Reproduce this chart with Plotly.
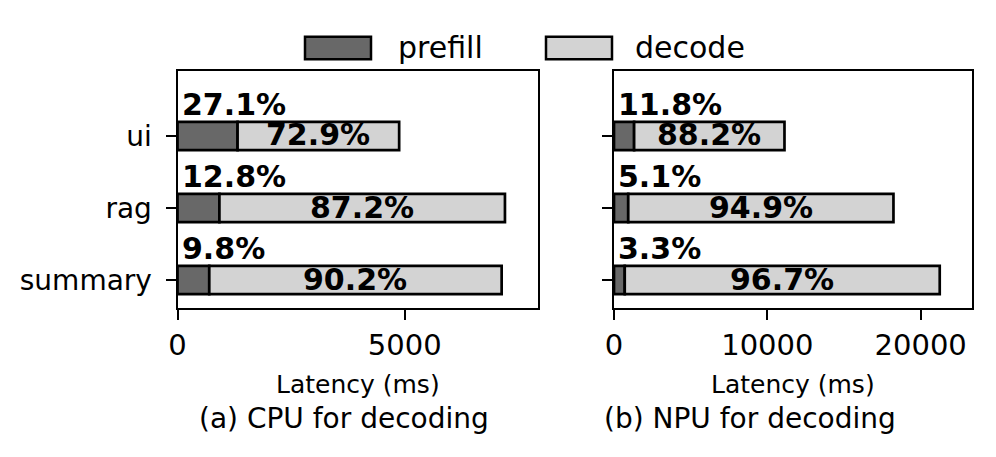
import plotly.graph_objects as go

categories = ["ui", "rag", "summary"]
cpu_prefill = [1322, 922, 699]
cpu_decode = [3555, 6283, 6433]
npu_prefill = [1312, 929, 701]
npu_decode = [9806, 17296, 20541]
cpu_prefill_pct = ["27.1%", "12.8%", "9.8%"]
cpu_decode_pct = ["72.9%", "87.2%", "90.2%"]
npu_prefill_pct = ["11.8%", "5.1%", "3.3%"]
npu_decode_pct = ["88.2%", "94.9%", "96.7%"]
series_names = ["prefill", "decode"]
subtitles = ["(a) CPU for decoding", "(b) NPU for decoding"]
xlabel = "Latency (ms)"

FONT = "DejaVu Sans"
C_PRE = "#686868"
C_DEC = "#d3d3d3"
W, H = 996, 457

n = len(categories)
ypos = [n - 1 - i for i in range(n)]

fig = go.Figure()

panels = [
    ("x", "y", cpu_prefill, cpu_decode, cpu_prefill_pct, cpu_decode_pct),
    ("x2", "y2", npu_prefill, npu_decode, npu_prefill_pct, npu_decode_pct),
]

for k, (xa, ya, pre, dec, ppct, dpct) in enumerate(panels):
    fig.add_trace(go.Bar(
        y=ypos, x=pre, orientation="h", name=series_names[0],
        marker=dict(color=C_PRE, line=dict(color="black", width=2.7)),
        width=0.39, xaxis=xa, yaxis=ya, showlegend=False))
    fig.add_trace(go.Bar(
        y=ypos, x=dec, base=pre, orientation="h", name=series_names[1],
        marker=dict(color=C_DEC, line=dict(color="black", width=2.7)),
        width=0.39, xaxis=xa, yaxis=ya, showlegend=False))
    for i in range(n):
        fig.add_annotation(
            x=0, y=ypos[i] + 0.44, xref=xa, yref=ya, text=ppct[i],
            showarrow=False, xanchor="left", yanchor="middle", xshift=2,
            font=dict(family=FONT, size=30, color="black", weight="bold"))
        fig.add_annotation(
            x=pre[i] + dec[i] / 2, y=ypos[i], xref=xa, yref=ya, text=dpct[i],
            showarrow=False, xanchor="center", yanchor="middle", yshift=1,
            font=dict(family=FONT, size=30, color="black", weight="bold"))

cpu_max = max(p + d for p, d in zip(cpu_prefill, cpu_decode))
npu_max = max(p + d for p, d in zip(npu_prefill, npu_decode))

axis_common = dict(showline=True, linewidth=2, linecolor="black", mirror=True,
                   ticks="outside", ticklen=10, tickwidth=2, tickcolor="black",
                   showgrid=False, zeroline=False, automargin=False,
                   tickfont=dict(family=FONT, size=29, color="black"))

ydom = [(H - 308.3) / H, (H - 70.7) / H]
fig.update_layout(
    width=W, height=H, margin=dict(l=0, r=0, t=0, b=0),
    plot_bgcolor="white", paper_bgcolor="white",
    font=dict(family=FONT, color="black"),
    barmode="overlay",
    xaxis=dict(domain=[177.5 / W, 537.7 / W], range=[0, cpu_max * 1.1],
               tickvals=[0, 5000], tickformat="d", ticklabelstandoff=0, anchor="y",
               **axis_common),
    yaxis=dict(domain=ydom, range=[-0.393, 2.907], tickvals=ypos, ticktext=categories,
               ticklabelstandoff=8, anchor="x", **axis_common),
    xaxis2=dict(domain=[614 / W, 972.3 / W], range=[0, npu_max * 1.1],
                tickvals=[0, 10000, 20000], tickformat="d", ticklabelstandoff=0,
                anchor="y2", **axis_common),
    yaxis2=dict(domain=ydom, range=[-0.393, 2.907], tickvals=ypos, showticklabels=False,
                anchor="x2", **axis_common),
)
fig.update_yaxes(tickfont=dict(family=FONT, size=28, color="black"))

# axis labels and subtitles
for cx in [(177.5 + 537.7) / 2 / W, (614 + 972.3) / 2 / W]:
    fig.add_annotation(x=cx, y=(H - 385) / H, xref="paper", yref="paper", text=xlabel,
                       showarrow=False, xanchor="center", yanchor="middle",
                       font=dict(family=FONT, size=25, color="black"))
for cx, t in zip([344 / W, 750 / W], subtitles):
    fig.add_annotation(x=cx, y=(H - 418) / H, xref="paper", yref="paper", text=t,
                       showarrow=False, xanchor="center", yanchor="middle",
                       font=dict(family=FONT, size=28, color="black"))

# legend
legend_items = [(305, 371, 396, series_names[0], C_PRE), (546, 612, 633, series_names[1], C_DEC)]
for x0, x1, tx, name, col in legend_items:
    fig.add_shape(type="rect", xref="paper", yref="paper",
                  x0=x0 / W, x1=x1 / W, y0=(H - 59.3) / H, y1=(H - 36.7) / H,
                  fillcolor=col, line=dict(color="black", width=2.5))
    fig.add_annotation(x=tx / W, y=(H - 47) / H, xref="paper", yref="paper", text=name,
                       showarrow=False, xanchor="left", yanchor="middle",
                       font=dict(family=FONT, size=30, color="black"))

fig.write_html("out.html", config={"displayModeBar": False},
               post_script="document.body.style.margin='0';document.body.style.padding='0';")
